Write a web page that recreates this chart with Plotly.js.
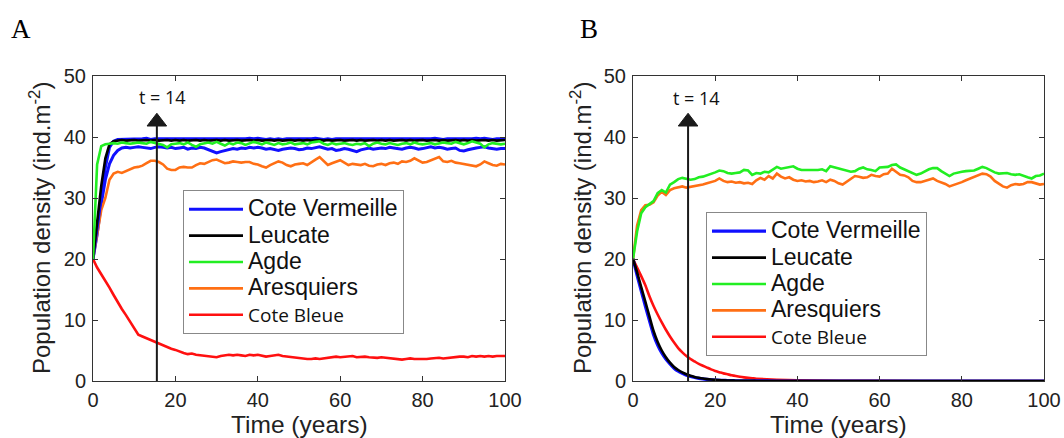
<!DOCTYPE html>
<html>
<head>
<meta charset="utf-8">
<script src="https://cdn.plot.ly/plotly-3.0.1.min.js"></script>
<style>html,body{margin:0;padding:0;background:#fff;}#chart{width:1064px;height:438px;}</style>
</head>
<body>
<div id="chart"></div>
<script>
// ---------- Data (yearly values, t = 0..100) ----------
const seriesNames = ["Cote Vermeille", "Leucate", "Agde", "Aresquiers", "Cote Bleue"];
const seriesColors = ["#1010ff", "#000000", "#22ee22", "#ff6f14", "#ff1010"];
const xTicks = [0, 20, 40, 60, 80, 100];
const yTicks = [0, 10, 20, 30, 40, 50];
const arrowTime = [15.5, 13.4];     // x position of the "t = 14" arrow in panels A and B
const arrowSpan = [0, 42.5];        // arrow from the axis up to its head
const arrowLabel = "t = 14";

// Panel A
const A_vermeille = [20,25,30,35,38.3,39.3,39.6,39.6,39.7,39.6,
 39.7,39.6,39.7,39.8,39.6,39.7,39.7,39.6,39.7,39.6,
 39.7,39.6,39.6,39.7,39.6,39.7,39.7,39.6,39.7,39.6,
 39.6,39.7,39.6,39.7,39.7,39.6,39.7,39.7,39.8,39.7,
 39.8,39.7,39.6,39.7,39.6,39.7,39.6,39.7,39.7,39.6,
 39.7,39.6,39.7,39.7,39.8,39.7,39.6,39.7,39.6,39.7,
 39.7,39.6,39.7,39.7,39.6,39.7,39.6,39.7,39.6,39.7,
 39.6,39.7,39.7,39.6,39.7,39.6,39.7,39.7,39.6,39.7,
 39.7,39.6,39.7,39.8,39.7,39.6,39.7,39.7,39.6,39.7,
 39.6,39.7,39.7,39.8,39.7,39.8,39.7,39.6,39.7,39.7,39.7];
const A_vermeille2 = [20,24,29,33,35.6,37.0,37.8,38.2,38.3,38.2,
 38.3,38.4,38.3,38.2,38.1,38.3,38.4,38.3,38.2,38.3,
 38.1,38.2,38.3,38.0,38.2,38.1,38.3,38.2,37.9,37.6,
 37.4,37.6,37.8,38.0,38.1,38.0,38.2,38.1,38.3,38.2,
 38.3,38.2,38.0,38.1,37.9,37.8,38.0,38.1,38.2,38.1,
 37.9,38.0,38.2,38.1,38.3,38.4,38.2,38.0,38.1,37.8,
 37.9,38.1,38.0,37.8,37.6,37.9,38.1,38.2,38.0,38.1,
 38.2,38.1,38.3,38.2,38.1,38.0,38.2,38.3,38.2,38.0,
 38.1,38.3,38.4,38.2,38.3,38.2,38.0,38.1,38.2,37.8,
 37.7,37.9,38.1,38.2,38.3,38.4,38.2,38.1,38.0,38.1,38.1];
const A_leucate = [20,26.5,32,36.5,38.8,39.3,39.4,39.5,39.4,39.5,
 39.5,39.4,39.5,39.5,39.4,39.5,39.4,39.5,39.5,39.4,
 39.5,39.4,39.5,39.4,39.5,39.5,39.4,39.5,39.4,39.5,
 39.5,39.4,39.5,39.4,39.5,39.5,39.4,39.5,39.5,39.4,
 39.5,39.4,39.5,39.5,39.4,39.5,39.4,39.5,39.5,39.4,
 39.5,39.4,39.5,39.4,39.5,39.5,39.4,39.5,39.4,39.5,
 39.5,39.4,39.5,39.5,39.4,39.5,39.4,39.5,39.5,39.4,
 39.5,39.4,39.5,39.4,39.5,39.5,39.4,39.5,39.4,39.5,
 39.5,39.4,39.5,39.5,39.4,39.5,39.4,39.5,39.5,39.4,
 39.5,39.4,39.5,39.4,39.5,39.5,39.4,39.5,39.4,39.5,39.5];
const A_agde = [20,35.5,38.5,38.8,38.9,39.0,38.9,39.1,39.0,38.9,
 39.0,39.1,39.0,38.9,39.2,39.0,38.9,38.7,38.3,38.8,
 38.9,39.0,38.8,39.1,38.7,38.4,38.8,39.0,39.1,38.9,
 39.2,38.9,38.6,39.0,38.8,39.1,39.0,38.7,38.9,39.2,
 39.0,38.8,39.1,38.9,38.7,39.0,38.8,38.9,39.1,38.8,
 38.9,39.0,38.8,39.1,39.2,39.3,38.9,38.7,39.0,38.8,
 38.9,39.0,38.8,38.7,38.9,38.8,39.0,38.5,38.9,39.1,
 38.9,38.8,39.0,38.9,38.7,38.9,39.0,38.8,39.1,38.9,
 38.8,38.9,39.0,38.8,38.9,39.1,39.0,38.9,39.2,39.0,
 38.8,39.0,39.3,39.1,38.9,38.3,38.8,39.0,38.9,38.8,38.9];
const A_aresquiers = [20,24,28,30,33,34,34.3,34.1,34.4,34.8,
 35,35.1,35.3,35.7,36.1,36.1,35.9,35.5,34.8,34.6,
 34.6,35.0,35.1,35.0,35.0,35.4,35.7,35.6,35.9,36.2,
 36.3,36.0,35.7,35.8,36.0,35.9,35.8,35.9,35.9,35.6,
 35.5,35.2,35.0,35.4,35.7,36.0,35.8,35.4,35.2,35.5,
 35.6,35.7,35.4,35.9,36.3,36.7,36.0,35.4,35.7,36.0,
 36.2,35.8,35.4,35.6,35.5,35.4,35.6,35.3,35.2,35.5,
 35.6,35.4,35.7,35.8,35.6,36.0,35.9,36.1,36.5,36.2,
 35.8,35.9,36.2,36.4,36.7,36.0,35.9,36.1,35.8,35.7,
 35.6,35.4,35.3,35.2,35.5,36.0,35.7,35.4,35.3,35.6,35.5];
const A_bleue = [20,18.6,17.5,16.5,15.3,14.1,12.9,11.8,10.8,9.7,
 8.6,7.6,7.3,7.0,6.7,6.5,6.2,5.9,5.6,5.3,
 5.1,4.8,4.6,4.4,4.5,4.3,4.2,4.1,4.1,4.0,
 3.9,4.1,4.2,4.3,4.2,4.3,4.2,4.1,4.3,4.2,
 4.3,4.2,4.0,4.1,4.2,4.3,4.1,4.0,3.9,3.8,
 3.7,3.7,3.6,3.6,3.7,3.6,3.7,3.8,3.9,4.0,
 3.9,4.0,4.0,4.1,3.9,4.0,4.0,3.9,3.8,3.8,
 3.9,3.8,3.8,3.7,3.6,3.5,3.6,3.7,3.6,3.6,
 3.5,3.6,3.7,3.8,3.8,3.7,3.8,3.9,3.9,4.0,
 4.0,3.9,4.1,4.0,4.1,4.0,4.1,4.0,4.1,4.1,4.1];

// Panel B
const B_agde = [20,24.5,27.5,28.5,29.0,29.5,30.8,31.3,30.9,32.2,
 32.6,33.1,33.3,33.1,33.0,33.1,33.4,33.5,33.7,34.0,
 34.2,34.5,34.4,34.1,34.0,34.1,34.2,34.6,34.5,33.8,
 34.1,34.0,34.3,34.2,34.7,35.1,34.8,34.9,35.0,35.2,
 34.8,34.6,34.6,34.6,34.5,34.6,34.7,34.4,35.2,35.0,
 34.8,34.6,34.4,34.3,34.4,34.8,35.0,34.7,34.6,34.4,
 35.0,35.0,35.1,35.4,35.5,35.0,34.7,34.4,34.0,33.8,
 34.0,34.4,34.7,34.9,34.9,34.4,34.0,33.6,34.0,34.2,
 34.3,34.4,34.4,34.5,34.8,35.1,34.9,34.5,34.2,34.0,
 34.0,34.1,33.9,33.8,33.9,33.6,33.4,33.2,33.6,33.7,34.0];
const B_aresquiers = [20,25.5,28.0,28.8,28.9,29.3,30.4,31.0,30.5,31.3,
 31.6,31.8,31.9,31.7,31.8,31.9,32.0,32.2,32.4,32.6,
 32.8,33.2,32.8,32.6,32.7,32.5,32.6,32.4,32.5,32.3,
 32.9,33.3,33.0,33.6,33.2,34.0,33.5,33.2,33.4,33.0,
 32.8,32.9,32.7,32.8,32.6,32.7,32.9,32.6,33.0,32.8,
 32.4,32.2,32.7,33.2,33.6,33.5,33.3,33.4,33.8,33.6,
 33.5,33.9,34.0,34.8,34.3,33.8,33.7,33.4,32.8,32.6,
 32.6,32.8,33.0,33.2,32.8,32.6,32.3,31.9,32.1,32.4,
 32.6,32.9,33.2,33.5,33.8,34.0,33.9,33.5,32.8,32.4,
 31.9,31.7,32.1,32.3,32.2,32.3,32.6,32.6,32.4,32.2,32.3];
const B_decayTime = [0,1,2,3,4,5,6,7,8,9,10,11,12,13,14,15,16,17,18,19,20,21,22,23,24,25,26,27,28,29,30,35,40,50,60,80,100];
const B_vermeille = [20,17.3,14.8,12.3,9.9,7.6,5.9,4.6,3.6,2.8,2.1,1.6,1.25,0.95,0.74,0.57,0.44,0.34,0.27,0.21,0.16,0.12,0.1,0.08,0.06,0.04,0.03,0.02,0.02,0.01,0.01,0,0,0,0,0,0];
const B_leucate = [20,17.8,15.4,13.0,10.6,8.2,6.4,5.0,3.9,3.0,2.3,1.8,1.4,1.1,0.86,0.67,0.52,0.4,0.31,0.24,0.19,0.15,0.11,0.09,0.07,0.05,0.04,0.03,0.02,0.02,0.01,0,0,0,0,0,0];
const B_bleue = [20,18.6,17.2,15.7,13.9,12.3,10.9,9.6,8.4,7.3,6.3,5.4,4.7,4.1,3.6,3.2,2.8,2.5,2.2,1.9,1.65,1.45,1.25,1.1,0.95,0.82,0.7,0.6,0.52,0.45,0.38,0.2,0.12,0.05,0.02,0,0];

// ---------- Build traces ----------
const FONT = "Liberation Sans, Arial, sans-serif";
const LW = 2.6;
function yearly(y, color, name, xa, ya, legend, show, width) {
  return {type: "scatter", mode: "lines", x0: 0, dx: 1, y: y, name: name,
    xaxis: xa, yaxis: ya, legend: legend, showlegend: show,
    line: {color: color, width: width || LW, shape: "linear"}, hoverinfo: "skip"};
}
function timed(x, y, color, name, xa, ya, legend, show, width) {
  return {type: "scatter", mode: "lines", x: x, y: y, name: name,
    xaxis: xa, yaxis: ya, legend: legend, showlegend: show,
    line: {color: color, width: width || LW, shape: "spline", smoothing: 0.6}, hoverinfo: "skip"};
}
function legName(i) {
  if (i === 4) return '<span style="font-family:Open Sans;font-size:19px">' + seriesNames[i] + '</span>';
  return '<span style="font-size:23px">' + seriesNames[i] + '</span>';
}
function legendOnly(i, xa, ya, legend) {
  return {type: "scatter", mode: "lines", x: [null], y: [null], name: legName(i),
    xaxis: xa, yaxis: ya, legend: legend, line: {color: seriesColors[i], width: LW}};
}
function arrow(t, xa, ya, legend) {
  return {type: "scatter", mode: "lines+markers", x: [t, t], y: arrowSpan, xaxis: xa, yaxis: ya,
    legend: legend, showlegend: false, hoverinfo: "skip", opacity: 1,
    line: {color: "#1a1a1a", width: 2},
    marker: {symbol: "triangle-up", size: [0, 17], color: "#1a1a1a", opacity: 1,
             line: {width: 1, color: "#1a1a1a"}}};
}

const traces = [
  yearly(A_vermeille2, seriesColors[0], seriesNames[0], "x", "y", "legend", false, 3),
  yearly(A_aresquiers, seriesColors[3], seriesNames[3], "x", "y", "legend", false),
  yearly(A_bleue, seriesColors[4], seriesNames[4], "x", "y", "legend", false),
  yearly(A_vermeille, seriesColors[0], legName(0), "x", "y", "legend", true, 3),
  yearly(A_leucate, seriesColors[1], legName(1), "x", "y", "legend", true),
  yearly(A_agde, seriesColors[2], legName(2), "x", "y", "legend", true),
  legendOnly(3, "x", "y", "legend"),
  legendOnly(4, "x", "y", "legend"),
  arrow(arrowTime[0], "x", "y", "legend"),

  yearly(B_aresquiers, seriesColors[3], seriesNames[3], "x2", "y2", "legend2", false),
  yearly(B_agde, seriesColors[2], seriesNames[2], "x2", "y2", "legend2", false),
  timed(B_decayTime, B_bleue, seriesColors[4], seriesNames[4], "x2", "y2", "legend2", false),
  timed(B_decayTime, B_vermeille, seriesColors[0], legName(0), "x2", "y2", "legend2", true, 3.2),
  timed(B_decayTime, B_leucate, seriesColors[1], legName(1), "x2", "y2", "legend2", true, 2.6),
  legendOnly(2, "x2", "y2", "legend2"),
  legendOnly(3, "x2", "y2", "legend2"),
  legendOnly(4, "x2", "y2", "legend2"),
  arrow(arrowTime[1], "x2", "y2", "legend2")
];

// ---------- Layout ----------
const W = 1064, H = 438;
const px = v => v / W, py = v => (H - v) / H;

function xAxis(domain, anchor) {
  return {domain: domain, anchor: anchor, range: [0, 100], tickvals: xTicks, ticktext: xTicks.map(String),
    ticks: "inside", ticklen: 5, tickcolor: "#333", tickwidth: 1,
    showline: true, linecolor: "#333", linewidth: 1, mirror: "ticks",
    showgrid: false, zeroline: false, fixedrange: true,
    tickfont: {family: FONT, size: 20, color: "#222"}, ticklabelstandoff: 1};
}
function yAxis(domain, anchor) {
  return {domain: domain, anchor: anchor, range: [0, 50], tickvals: yTicks, ticktext: yTicks.map(String),
    ticks: "inside", ticklen: 5, tickcolor: "#333", tickwidth: 1,
    showline: true, linecolor: "#333", linewidth: 1, mirror: "ticks",
    showgrid: false, zeroline: false, fixedrange: true,
    tickfont: {family: FONT, size: 20, color: "#222"}, ticklabelstandoff: 2};
}
const yDom = [py(381), py(76)];
const legendStyle = {bgcolor: "#fff", bordercolor: "#888", borderwidth: 1,
  font: {family: FONT, size: 18, color: "#111"}, xanchor: "left", yanchor: "top",
  tracegroupgap: 0, itemwidth: 54, traceorder: "normal"};

const annotations = [
  {text: "A", x: px(21), y: py(29), xref: "paper", yref: "paper", showarrow: false,
   font: {family: "Liberation Serif, serif", size: 27, color: "#000"}, xanchor: "center", yanchor: "middle"},
  {text: "B", x: px(589), y: py(29), xref: "paper", yref: "paper", showarrow: false,
   font: {family: "Liberation Serif, serif", size: 27, color: "#000"}, xanchor: "center", yanchor: "middle"},
  {text: "Population density (ind.m<sup>-2</sup>)", x: px(40), y: py(228), xref: "paper", yref: "paper",
   showarrow: false, textangle: -90, font: {family: FONT, size: 24, color: "#222"}, xanchor: "center", yanchor: "middle"},
  {text: "Population density (ind.m<sup>-2</sup>)", x: px(581), y: py(228), xref: "paper", yref: "paper",
   showarrow: false, textangle: -90, font: {family: FONT, size: 24, color: "#222"}, xanchor: "center", yanchor: "middle"},
  {text: "Time (years)", x: px(299), y: py(424), xref: "paper", yref: "paper", showarrow: false,
   font: {family: FONT, size: 24.5, color: "#222"}, xanchor: "center", yanchor: "middle"},
  {text: "Time (years)", x: px(838), y: py(424), xref: "paper", yref: "paper", showarrow: false,
   font: {family: FONT, size: 24.5, color: "#222"}, xanchor: "center", yanchor: "middle"},
  {text: arrowLabel, x: px(162), y: py(97), xref: "paper", yref: "paper", showarrow: false,
   font: {family: "Open Sans, sans-serif", size: 18, color: "#111"}, xanchor: "center", yanchor: "middle"},
  {text: arrowLabel, x: px(696), y: py(98), xref: "paper", yref: "paper", showarrow: false,
   font: {family: "Open Sans, sans-serif", size: 18, color: "#111"}, xanchor: "center", yanchor: "middle"}
];

const layout = {
  width: W, height: H, margin: {l: 0, r: 0, t: 0, b: 0},
  paper_bgcolor: "#fff", plot_bgcolor: "#fff",
  font: {family: FONT, color: "#222"},
  xaxis: xAxis([px(93), px(505)], "y"),
  yaxis: yAxis(yDom, "x"),
  xaxis2: xAxis([px(633), px(1044)], "y2"),
  yaxis2: yAxis(yDom, "x2"),
  legend: Object.assign({x: px(183), y: py(190)}, legendStyle),
  legend2: Object.assign({x: px(706), y: py(212)}, legendStyle),
  annotations: annotations,
  showlegend: true
};

Plotly.newPlot("chart", traces, layout, {staticPlot: true, displayModeBar: false});
</script>
</body>
</html>
